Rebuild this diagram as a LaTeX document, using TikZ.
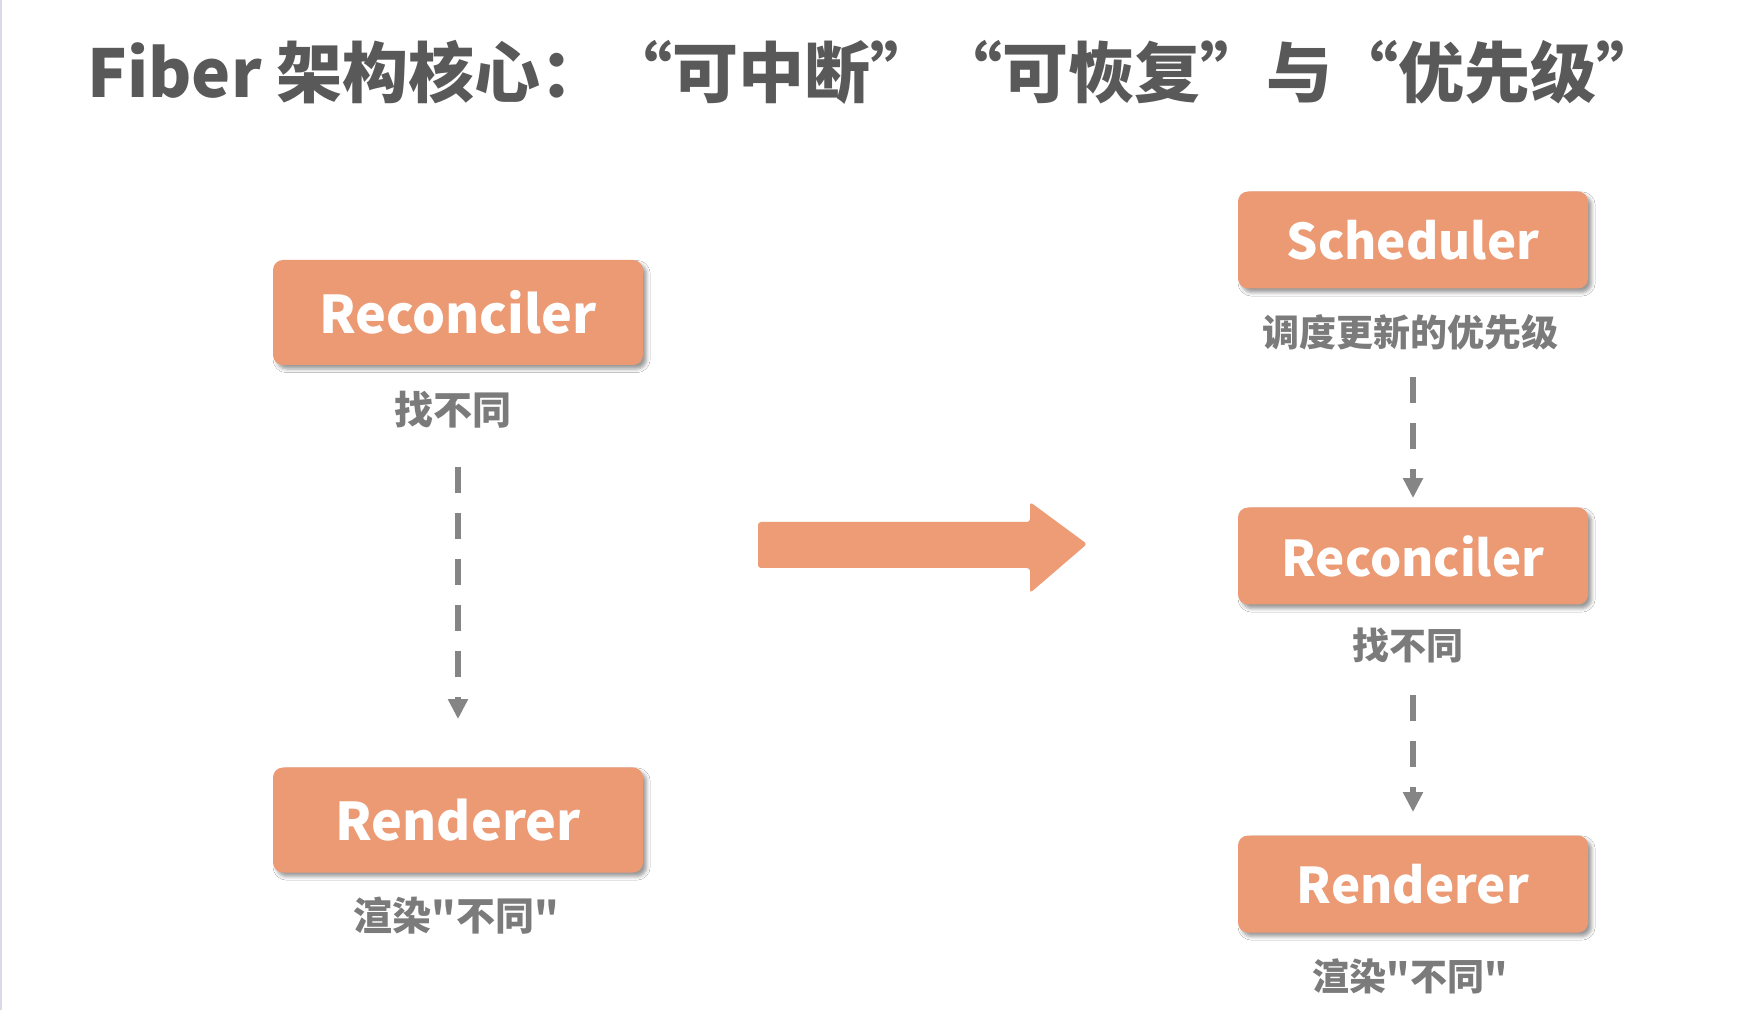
\documentclass[tikz,border=0pt]{standalone}
\usepackage{fontspec}
\setmainfont{Noto Sans CJK SC}[Ligatures=TeXOff]
\usetikzlibrary{arrows.meta,shadows.blur}
\definecolor{boxc}{HTML}{EC9A74}
\definecolor{arrc}{HTML}{EE9C76}
\definecolor{titlec}{HTML}{595959}
\definecolor{labc}{HTML}{7B7B7B}
\definecolor{linec}{HTML}{858585}
\definecolor{edgec}{HTML}{D8DAE8}
\tikzset{
  procbox/.style={draw=none, fill=boxc, rounded corners=5pt, text=white,
    font=\bfseries\fontsize{26}{26}\selectfont, inner sep=0pt,
    blur shadow={shadow xshift=1.8pt, shadow yshift=-2pt, shadow blur radius=1.8pt, shadow opacity=40}},
  leftbox/.style={procbox, minimum width=185pt, minimum height=52.5pt},
  rightbox/.style={procbox, minimum width=175pt, minimum height=48.5pt, font=\bfseries\fontsize{24.6}{24.6}\selectfont},
  lab/.style={text=labc, inner sep=0pt, minimum height=26pt, font=\bfseries\fontsize{19.5}{19.5}\selectfont},
  rlab/.style={lab, font=\bfseries\fontsize{18.5}{18.5}\selectfont},
  dflow/.style={draw=linec, line width=3.25pt, dash pattern=on 13pt off 10pt, -{Triangle[width=9.5pt,length=10pt]}},
  bigarrow/.style={fill=arrc, rounded corners=1.5pt}
}
\begin{document}
\begin{tikzpicture}[x=0.5pt,y=-0.5pt]
\useasboundingbox (0,0) rectangle (1753,1010);
\fill[white] (0,0) rectangle (1753,1010);
\draw[edgec, line width=1pt] (0.8,0) -- (0.8,1010);

\node[anchor=base west, inner sep=0pt, text=titlec, font=\bfseries\fontsize{33}{33}\selectfont] (title) at (87,98)
  {Fiber 架构核心：“可中断”“可恢复”与“优先级”};

% left column
\node[leftbox] (rec1) at (458,312.5) {Reconciler};
\node[lab] (lab1) at (453,410) {找不同};
\node[leftbox] (rend1) at (458,820) {Renderer};
\node[lab] (lab4) at (456,916) {渲染"不同"};
\draw[dflow, shorten <=15.5pt, shorten >=24pt] (lab1.south -| rec1.south) -- (rend1.north);

% big arrow
\path[bigarrow] (758,522) -- (1030,522) -- (1030,502) -- (1087,544) -- (1030,593) -- (1030,568) -- (758,568) -- cycle;

% right column
\node[rightbox] (sch) at (1413,240) {Scheduler};
\node[rlab] (lab2) at (1410,332) {调度更新的优先级};
\node[rightbox] (rec2) at (1413,556) {Reconciler};
\node[rlab] (lab3) at (1408,645) {找不同};
\node[rightbox] (rend2) at (1413,884) {Renderer};
\node[rlab] (lab5) at (1410,976) {渲染"不同"};
\draw[dflow, shorten <=9.5pt, shorten >=4.5pt] (lab2.south -| sch.south) -- (rec2.north);
\draw[dflow, shorten <=12pt, shorten >=11.5pt] (lab3.south -| rec2.south) -- (rend2.north);
\end{tikzpicture}
\end{document}
